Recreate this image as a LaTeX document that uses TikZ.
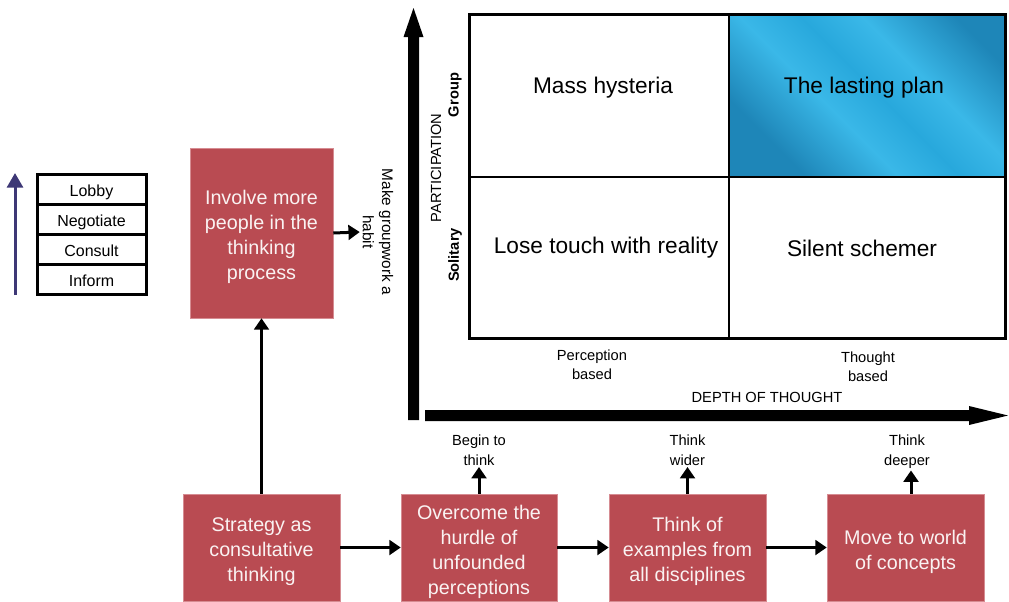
\documentclass[tikz,border=0pt]{standalone}
\usepackage{fontspec}
\setmainfont{Liberation Sans}
\usetikzlibrary{arrows.meta}

\definecolor{boxred}{RGB}{185,75,82}
\definecolor{boxedge}{RGB}{214,140,146}
\definecolor{boxtext}{RGB}{250,242,242}
\definecolor{ladder}{RGB}{62,56,118}
\definecolor{planlight}{RGB}{58,184,232}
\definecolor{planmid}{RGB}{40,168,220}
\definecolor{plandark}{RGB}{30,134,184}

% diagonal sky-blue gradient for the winning quadrant
\pgfdeclareverticalshading{lastingplan}{100bp}{%
  color(0bp)=(plandark); color(27bp)=(plandark); color(42bp)=(planlight);
  color(52bp)=(planmid); color(62bp)=(planlight); color(77bp)=(plandark);
  color(100bp)=(plandark)}

% extra room above the first line of a red box
\newcommand\firstline{\rule{0pt}{17pt}}

\begin{document}
\begin{tikzpicture}[x=0.75pt,y=-0.75pt,
  redbox/.style={rectangle, fill=boxred, draw=boxedge, line width=0.4pt,
    text=boxtext, align=center, inner sep=0pt,
    font=\fontsize{14.8}{18.75}\selectfont},
  flow/.style={line width=2.25pt, -{Triangle[length=8.5pt,width=11pt]}},
  steplabel/.style={align=center, inner sep=1pt,
    font=\fontsize{11}{15}\selectfont},
  celltext/.style={font=\fontsize{17}{20}\selectfont, inner sep=0pt},
  axislabel/.style={font=\fontsize{11}{14}\selectfont, inner sep=0pt, align=center},
  rung/.style={rectangle, draw, line width=2.25pt, minimum width=81.75pt,
    minimum height=22.5pt, inner sep=0pt, text height=11pt, text depth=0pt,
    font=\fontsize{12}{14}\selectfont},
  ladderarrow/.style={draw=ladder, line width=2.25pt,
    -{Triangle[length=11pt,width=12pt]}}
]
\useasboundingbox (0,0) rectangle (1009,601);

% ---- engagement ladder ----
\node[rung] (lobby)   at (91.5,189) {Lobby};
\node[rung] (negot)   at (91.5,219) {Negotiate};
\node[rung] (consult) at (91.5,249) {Consult};
\node[rung] (inform)  at (91.5,279) {Inform};
\coordinate (ladbot) at (15,295);
\coordinate (ladtop) at (15,173);
\draw[ladderarrow] (ladbot) -- (ladtop);

% ---- quadrant grid ----
\coordinate (gTL) at (469,14);
\coordinate (gBR) at (1005,338);
\coordinate (gMid) at (729,177);
\shade[shading=lastingplan, shading angle=-45] (729,14) rectangle (1005,177);
\draw[line width=2.25pt] (gTL) rectangle (gBR);
\draw[line width=2pt] (gMid |- gTL) -- (gMid |- gBR);
\draw[line width=2pt] (gMid -| gTL) -- (gMid -| gBR);

\node[celltext] (mass)    at (603,88)  {Mass hysteria};
\node[celltext] (lasting) at (864,88)  {The lasting plan};
\node[celltext] (lose)    at (606,248) {Lose touch with reality};
\node[celltext] (silent)  at (862,248) {Silent schemer};

% ---- axes ----
\fill (408,420) -- (408,37) -- (403.5,37) -- (413.5,8) -- (423.5,37)
      -- (419,37) -- (419,420) -- cycle;
\fill (425,410) -- (969,410) -- (969,406) -- (1008,415.5) -- (969,425)
      -- (969,421) -- (425,421) -- cycle;

\node[axislabel, rotate=90] (part) at (436,168) {PARTICIPATION};
\node[axislabel, rotate=90, font=\fontsize{11}{14}\selectfont\bfseries] (group) at (455,95) {Group};
\node[axislabel, rotate=90, font=\fontsize{11}{14}\selectfont\bfseries] (solit) at (455,255) {Solitary};
\node[axislabel] (perc)  at (592,365) {Perception\\based};
\node[axislabel] (thou)  at (868,367) {Thought\\based};
\node[axislabel] (depth) at (767,397) {DEPTH OF THOUGHT};

% ---- flow of boxes ----
\node[redbox, minimum width=107.25pt, minimum height=127.5pt] (inv) at (261.5,233)
  {\firstline Involve more\\people in the\\thinking\\process};
\node[redbox, minimum width=117.75pt, minimum height=80.25pt] (strat) at (261.5,547.5)
  {\firstline Strategy as\\consultative\\thinking};
\node[redbox, minimum width=117pt, minimum height=80.25pt] (over) at (479,547.5)
  {\firstline Overcome the\\hurdle of\\unfounded\\perceptions};
\node[redbox, minimum width=117.75pt, minimum height=80.25pt] (exam) at (687.5,547.5)
  {\firstline Think of\\examples from\\all disciplines};
\node[redbox, minimum width=117.75pt, minimum height=80.25pt] (move) at (905.5,547.5)
  {\firstline Move to world\\of concepts};

\node[axislabel, rotate=-90, inner sep=2pt, font=\fontsize{11.5}{14.5}\selectfont] (habit) at (378,232) {Make groupwork a\\habit};

\node[steplabel] (begin)  at (479,450) {Begin to\\think};
\node[steplabel] (wider)  at (687.5,450) {Think\\wider};
\node[steplabel] (deeper) at (907,452) {Think\\deeper};

\draw[flow] (strat) -- (inv);
\draw[flow] (inv.east) -- (habit.south);
\draw[flow] (strat) -- (over);
\draw[flow] (over) -- (exam);
\draw[flow] (exam) -- (move);
\draw[flow] (over.north) -- (begin.south);
\draw[flow] (exam.north) -- (wider.south);
\draw[flow] (move.north -| deeper) ++(4,0) coordinate (dtail) (dtail) -- (dtail |- deeper.south);
\end{tikzpicture}
\end{document}
